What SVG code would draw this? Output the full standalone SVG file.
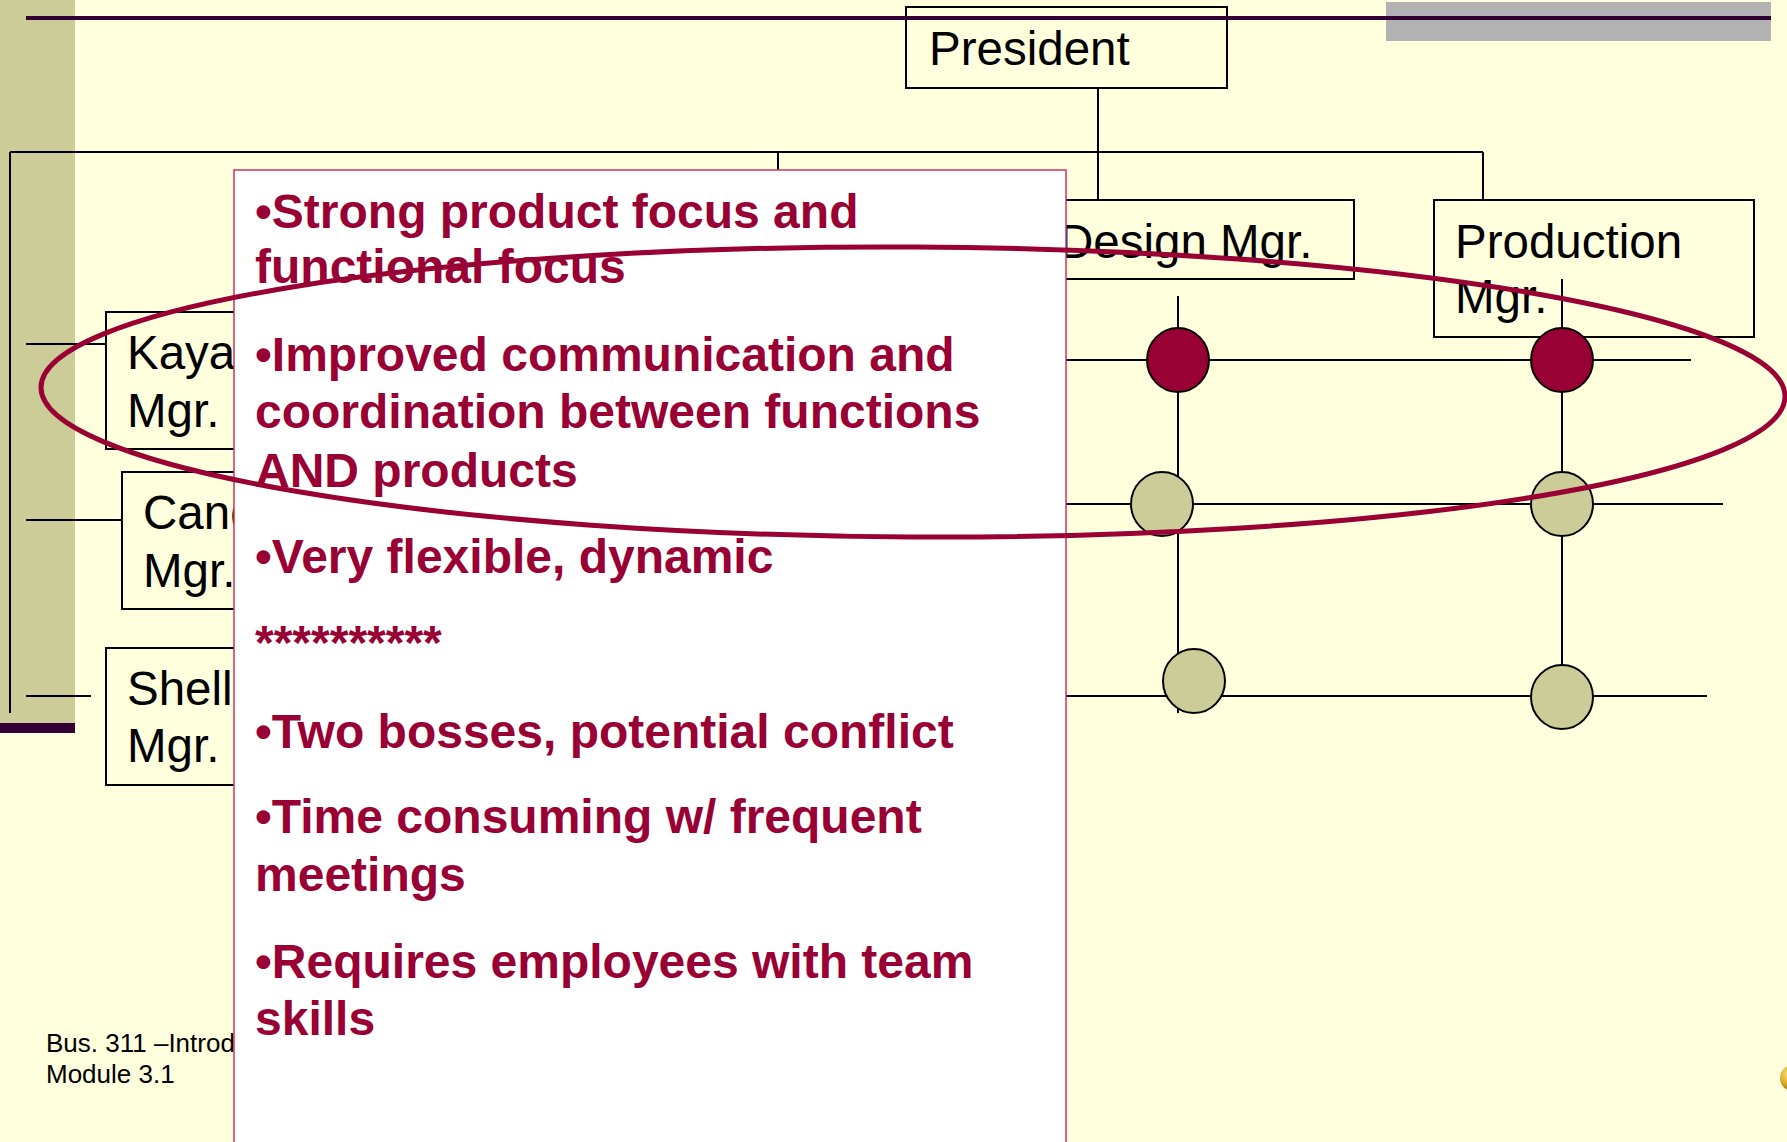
<svg xmlns="http://www.w3.org/2000/svg" width="1787" height="1142" viewBox="0 0 1787 1142">
  <defs>
    <style>
      .ln { stroke: #000; stroke-width: 2; fill: none; }
      .box { stroke: #000; stroke-width: 2; fill: #FFFFDD; }
      .lbl { font-family: "Liberation Sans", Arial, sans-serif; font-size: 47.5px; fill: #000; }
      .hot { fill: #990033; stroke: #000; stroke-width: 2; }
      .cold { fill: #CCCC99; stroke: #000; stroke-width: 2; }
      .pt { font-family: "Liberation Sans", Arial, sans-serif; font-size: 48px; font-weight: bold; fill: #990033; }
      .foot { font-family: "Liberation Sans", Arial, sans-serif; font-size: 26px; fill: #000; }
    </style>
    <radialGradient id="gold" cx="0.35" cy="0.35" r="0.7">
      <stop offset="0" stop-color="#FFE680"/>
      <stop offset="0.6" stop-color="#D9A520"/>
      <stop offset="1" stop-color="#8A6410"/>
    </radialGradient>
  </defs>

  <!-- slide background and decorations -->
  <rect x="0" y="0" width="1787" height="1142" fill="#FFFFDD"/>
  <rect x="0" y="0" width="75" height="723" fill="#CCCC99"/>
  <rect x="0" y="723" width="75" height="10" fill="#330033"/>
  <rect x="1386" y="2" width="385" height="39" fill="#B2B2B2"/>

  <!-- reporting lines -->
  <g id="connectors">
    <line class="ln" x1="1098" y1="88" x2="1098" y2="200"/>
    <line class="ln" x1="10" y1="152" x2="1483" y2="152"/>
    <line class="ln" x1="10" y1="152" x2="10" y2="713"/>
    <line class="ln" x1="778" y1="152" x2="778" y2="180"/>
    <line class="ln" x1="1483" y1="152" x2="1483" y2="200"/>
    <line class="ln" x1="26" y1="344" x2="106" y2="344"/>
    <line class="ln" x1="26" y1="520" x2="122" y2="520"/>
    <line class="ln" x1="26" y1="696" x2="91" y2="696"/>
    <!-- matrix grid -->
    <line class="ln" x1="1000" y1="360" x2="1691" y2="360"/>
    <line class="ln" x1="1000" y1="504" x2="1723" y2="504"/>
    <line class="ln" x1="1000" y1="696" x2="1707" y2="696"/>
    <line class="ln" x1="1178" y1="296" x2="1178" y2="713"/>
    <line class="ln" x1="1562" y1="279" x2="1562" y2="665"/>
  </g>

  <g id="president">
    <rect class="box" x="906" y="7" width="321" height="81" fill-opacity="0"/>
    <text class="lbl" x="929" y="65">President</text>
  </g>
  <g id="design-mgr">
    <rect class="box" x="1036" y="200" width="318" height="79"/>
    <text class="lbl" x="1059" y="258">Design Mgr.</text>
  </g>
  <g id="production-mgr">
    <rect class="box" x="1434" y="200" width="320" height="137"/>
    <text class="lbl" x="1455" y="258">Production</text>
    <text class="lbl" x="1455" y="313">Mgr.</text>
  </g>
  <line class="ln" x1="1562" y1="279" x2="1562" y2="340"/>
  <g id="kayak-mgr">
    <rect class="box" x="106" y="312" width="200" height="137"/>
    <text class="lbl" x="127" y="369">Kaya</text>
    <text class="lbl" x="127" y="427">Mgr.</text>
  </g>
  <g id="candy-mgr">
    <rect class="box" x="122" y="472" width="200" height="137"/>
    <text class="lbl" x="143" y="529">Cand</text>
    <text class="lbl" x="143" y="587">Mgr.</text>
  </g>
  <g id="shell-mgr">
    <rect class="box" x="106" y="648" width="200" height="137"/>
    <text class="lbl" x="127" y="705">Shell</text>
    <text class="lbl" x="127" y="762">Mgr.</text>
  </g>

  <!-- grid intersections -->
  <g id="node-design-kayak"><ellipse class="hot" cx="1178" cy="360" rx="31" ry="32"/></g>
  <g id="node-production-kayak"><ellipse class="hot" cx="1562" cy="360" rx="31" ry="32"/></g>
  <g id="node-design-candy"><ellipse class="cold" cx="1162" cy="504" rx="31" ry="32"/></g>
  <g id="node-production-candy"><ellipse class="cold" cx="1562" cy="504" rx="31" ry="32"/></g>
  <g id="node-design-shell"><ellipse class="cold" cx="1194" cy="681" rx="31" ry="32"/></g>
  <g id="node-production-shell"><ellipse class="cold" cx="1562" cy="697" rx="31" ry="32"/></g>

  <!-- title rule -->
  <line x1="26" y1="18" x2="1771" y2="18" stroke="#330033" stroke-width="4"/>

  <text class="foot" x="46" y="1052">Bus. 311 –Introd</text>
  <text class="foot" x="46" y="1083">Module 3.1</text>

  <!-- callout panel -->
  <g id="callout">
    <rect x="234" y="170" width="832" height="990" fill="#FFFFFF" stroke="#CC3366" stroke-width="1.5"/>
    <text class="pt" x="255" y="228">•Strong product focus and</text>
    <text class="pt" x="255" y="283">functional focus</text>
    <text class="pt" x="255" y="371">•Improved communication and</text>
    <text class="pt" x="255" y="428">coordination between functions</text>
    <text class="pt" x="255" y="487">AND products</text>
    <text class="pt" x="255" y="573">•Very flexible, dynamic</text>
    <text class="pt" x="255" y="659">**********</text>
    <text class="pt" x="255" y="748">•Two bosses, potential conflict</text>
    <text class="pt" x="255" y="833">•Time consuming w/ frequent</text>
    <text class="pt" x="255" y="891">meetings</text>
    <text class="pt" x="255" y="978">•Requires employees with team</text>
    <text class="pt" x="255" y="1035">skills</text>
  </g>

  <!-- highlight loop -->
  <ellipse cx="913" cy="392" rx="872" ry="145" fill="none" stroke="#990033" stroke-width="5" transform="rotate(0.3 913 392)"/>

  <circle cx="1793" cy="1078" r="13" fill="url(#gold)"/>
</svg>
